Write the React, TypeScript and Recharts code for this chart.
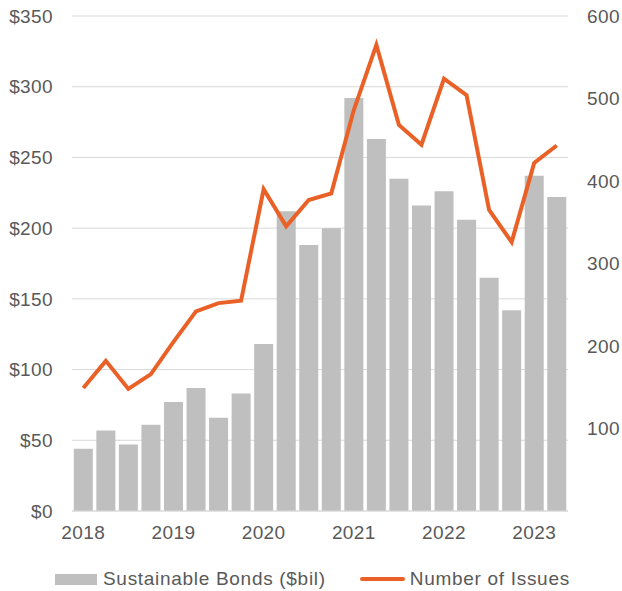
import {
  Bar,
  CartesianGrid,
  ComposedChart,
  Legend,
  Line,
  XAxis,
  YAxis,
} from "recharts";

const QUARTERS = [
  "2018Q1", "2018Q2", "2018Q3", "2018Q4",
  "2019Q1", "2019Q2", "2019Q3", "2019Q4",
  "2020Q1", "2020Q2", "2020Q3", "2020Q4",
  "2021Q1", "2021Q2", "2021Q3", "2021Q4",
  "2022Q1", "2022Q2", "2022Q3", "2022Q4",
  "2023Q1", "2023Q2",
];
const BONDS = [
  44, 57, 47, 61, 77, 87, 66, 83, 118, 212, 188, 200,
  292, 263, 235, 216, 226, 206, 165, 142, 237, 222,
];
const ISSUES = [
  149, 182, 148, 166, 205, 242, 252, 255, 390, 345, 377, 385,
  486, 565, 468, 444, 524, 504, 365, 326, 422, 443,
];
const LEFT_TICKS = [0, 50, 100, 150, 200, 250, 300, 350];
const RIGHT_TICKS = [100, 200, 300, 400, 500, 600];

const TEXT = "#595959";
const FONT = "'Liberation Sans', Arial, sans-serif";
const TICK = { fill: TEXT, fontSize: 19, fontFamily: FONT, letterSpacing: 0.4 };
const BAR_COLOR = "#bfbfbf";
const LINE_COLOR = "#ea6128";

const data = QUARTERS.map((q, i) => ({ q, bonds: BONDS[i], issues: ISSUES[i] }));

function ChartLegend() {
  return (
    <div
      style={{
        display: "flex",
        alignItems: "center",
        fontFamily: FONT,
        fontSize: 19,
        letterSpacing: 0.7,
        color: TEXT,
        paddingLeft: 55,
        paddingTop: 19,
      }}
    >
      <span style={{ width: 42, height: 11, background: BAR_COLOR, marginRight: 6 }} />
      <span>Sustainable Bonds ($bil)</span>
      <span
        style={{
          width: 45,
          height: 4,
          borderRadius: 2,
          background: LINE_COLOR,
          marginLeft: 34,
          marginRight: 5,
        }}
      />
      <span>Number of Issues</span>
    </div>
  );
}

export default function App() {
  return (
    <div style={{ position: "absolute", left: 0, top: 0, background: "#fff" }}>
      <ComposedChart
        data={data}
        height={591}
        margin={{ top: 16, right: 0, bottom: 0, left: 0 }}
        width={622}
        barCategoryGap="8%"
      >
        <CartesianGrid stroke="#d9d9d9" vertical={false} yAxisId="left" />
        <XAxis
          axisLine={{ stroke: "#d9d9d9" }}
          dataKey="q"
          height={38}
          interval={3}
          tick={TICK}
          tickFormatter={(v: string) => v.slice(0, 4)}
          tickLine={false}
          tickMargin={9}
        />
        <YAxis
          axisLine={false}
          domain={[0, 350]}
          tick={TICK}
          tickFormatter={(v: number) => `$${v}`}
          tickLine={false}
          tickMargin={13}
          ticks={LEFT_TICKS}
          width={72}
          yAxisId="left"
        />
        <YAxis
          axisLine={false}
          domain={[0, 600]}
          orientation="right"
          tick={TICK}
          tickLine={false}
          tickMargin={13}
          ticks={RIGHT_TICKS}
          width={54}
          yAxisId="right"
        />
        <Legend content={() => <ChartLegend />} height={42} verticalAlign="bottom" />
        <Bar
          dataKey="bonds"
          fill={BAR_COLOR}
          isAnimationActive={false}
          name="Sustainable Bonds ($bil)"
          yAxisId="left"
        />
        <Line
          dataKey="issues"
          dot={false}
          isAnimationActive={false}
          name="Number of Issues"
          stroke={LINE_COLOR}
          strokeWidth={4}
          type="linear"
          yAxisId="right"
        />
      </ComposedChart>
    </div>
  );
}
